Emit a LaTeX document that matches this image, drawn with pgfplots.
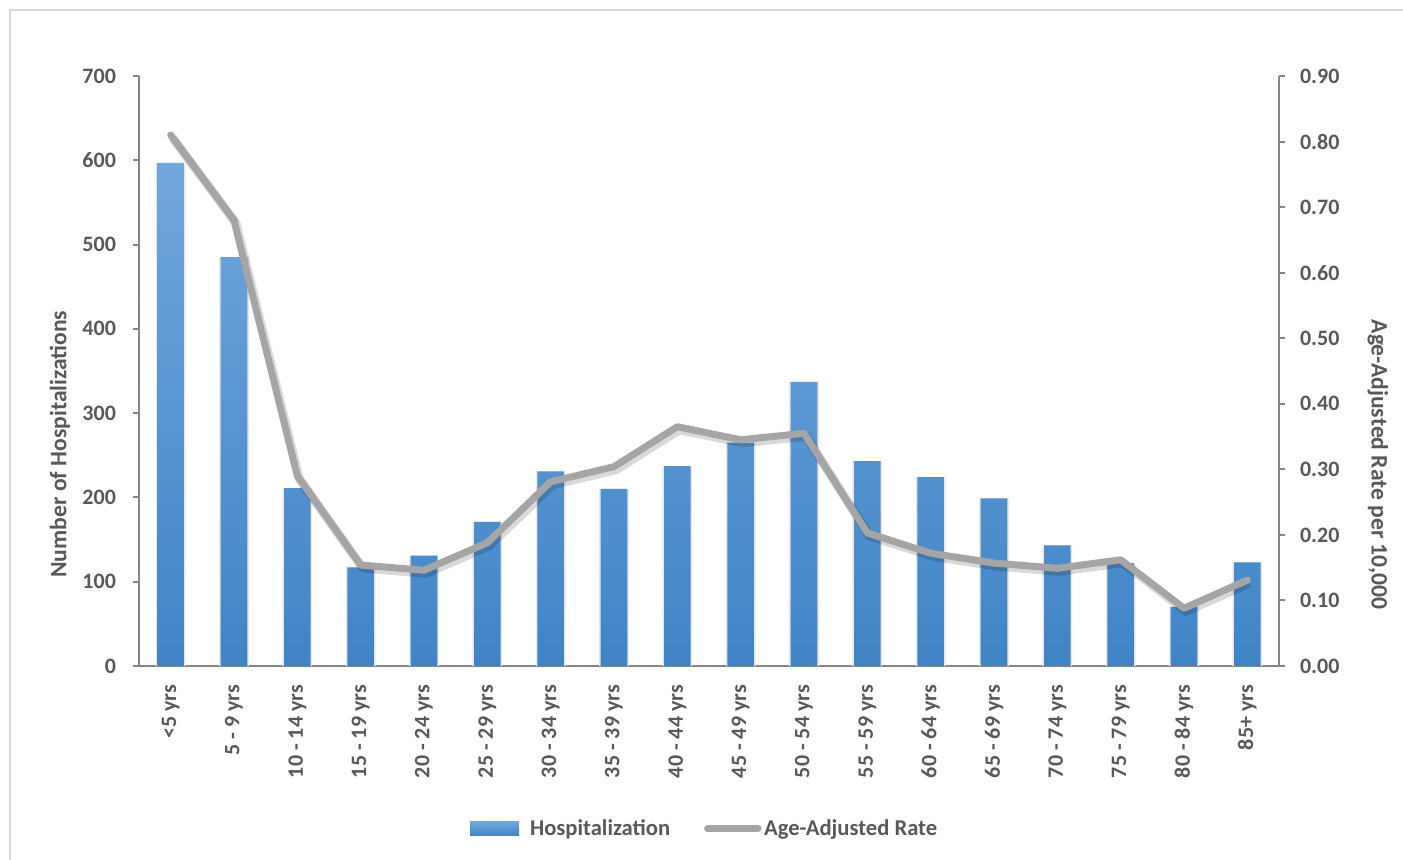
\documentclass[border=0pt]{standalone}
\usepackage{pgfplots}
\pgfplotsset{compat=1.18}
\usepackage{fontspec}
\setmainfont{Carlito}
\definecolor{txt}{HTML}{595959}
\definecolor{axgray}{HTML}{868686}
\definecolor{bartop}{RGB}{114,167,221}
\definecolor{barbot}{RGB}{64,132,198}
\definecolor{linegray}{HTML}{A5A5A5}
\definecolor{frame}{HTML}{D9D9D9}

\begin{document}
\begin{tikzpicture}
% canvas: 1 px of the reference = 0.5pt
\path[use as bounding box] (0,0) rectangle (701.5pt,430pt);
\draw[frame, line width=1pt] (5pt,0) -- (5pt,425pt) -- (701.5pt,425pt);

\pgfplotsset{
  base/.style={
    at={(69.5pt,97pt)}, anchor=south west,
    scale only axis, width=570pt, height=295pt,
    xmin=-0.5, xmax=17.5,
    tick align=outside,
    axis line style={axgray, line width=1pt},
    tick style={axgray, line width=1pt},
    /pgf/number format/assume math mode=true,
    ticklabel style={font=\fontsize{11}{13}\selectfont\bfseries, text=txt},
  }
}

\begin{axis}[base,
  axis x line*=bottom, axis y line*=left,
  ymin=0, ymax=700, ytick={0,100,...,700},
  major tick length=3pt,
  xtick={0,...,17},
  xticklabels={<5 yrs, 5 - 9 yrs, 10 - 14 yrs, 15 - 19 yrs, 20 - 24 yrs, 25 - 29 yrs,
    30 - 34 yrs, 35 - 39 yrs, 40 - 44 yrs, 45 - 49 yrs, 50 - 54 yrs, 55 - 59 yrs,
    60 - 64 yrs, 65 - 69 yrs, 70 - 74 yrs, 75 - 79 yrs, 80 - 84 yrs, 85+ yrs},
  xtick style={draw=none},
  minor xtick={-0.5,0.5,...,17.5},
  minor tick length=3.5pt,
  minor tick style={axgray, line width=1pt},
  xticklabel style={rotate=90, anchor=east, xshift=-3pt},
  yticklabel style={xshift=-5pt},
  every axis y label/.style={at={(axis description cs:-0.0693,0.376)}, rotate=90, anchor=center,
    font=\fontsize{11.8}{13}\selectfont\bfseries, text=txt},
  ylabel={Number of Hospitalizations},
  legend columns=2,
  legend style={draw=none, fill=none, at={(axis description cs:0.497,-0.276)}, anchor=center,
    font=\fontsize{11.3}{13}\selectfont\bfseries, text=txt,
    /tikz/every even column/.append style={column sep=15pt}},
  legend cell align=left,
]
% soft halo behind bars
\addplot[ybar, bar width=0.47, bar shift=0pt, fill=black!9, draw=none, forget plot]
  coordinates {(0,597) (1,485) (2,211) (3,117) (4,131) (5,171) (6,231) (7,210) (8,237)
    (9,265) (10,337) (11,243) (12,224) (13,199) (14,143) (15,122) (16,70) (17,123)};
\addplot[ybar, bar width=0.42, bar shift=0pt, draw=none, top color=bartop, bottom color=barbot,
  legend image code/.code={
    \fill[draw=none, top color=bartop, bottom color=barbot] (0pt,-3.5pt) rectangle (24.5pt,3.5pt);
    \path[draw=none, fill=none] (0pt,0pt) -- (28pt,0pt);}]
  coordinates {(0,597) (1,485) (2,211) (3,117) (4,131) (5,171) (6,231) (7,210) (8,237)
    (9,265) (10,337) (11,243) (12,224) (13,199) (14,143) (15,122) (16,70) (17,123)};
\addlegendentry{Hospitalization}
\addlegendimage{legend image code/.code={
    \draw[overlay, linegray, line width=3.5pt, line cap=round] (1.75pt,0pt) -- (27pt,0pt);
    \path[draw=none, fill=none] (0pt,-3.5pt) -- (28pt,3.5pt);}}
\addlegendentry{Age-Adjusted Rate}
\end{axis}

\begin{axis}[base,
  axis x line=none, axis y line*=right,
  ymin=0, ymax=0.9, ytick={0,0.1,...,0.9},
  major tick length=3pt,
  yticklabel style={xshift=4pt, /pgf/number format/.cd, fixed, fixed zerofill, precision=2},
  every axis y label/.style={at={(axis description cs:1.0868,0.341)}, rotate=-90, anchor=center,
    font=\fontsize{11.8}{13}\selectfont\bfseries, text=txt},
  ylabel={Age-Adjusted Rate per 10,000},
]
% shadow of the line
\addplot[black, opacity=0.15, line width=4.5pt, line join=round, transform canvas={xshift=1pt, yshift=-1.5pt}]
  coordinates {(0,0.81) (1,0.68) (2,0.29) (3,0.154) (4,0.146) (5,0.188) (6,0.281) (7,0.304)
    (8,0.365) (9,0.345) (10,0.355) (11,0.203) (12,0.172) (13,0.157) (14,0.149) (15,0.162)
    (16,0.088) (17,0.131)};
\addplot[linegray, line width=3.5pt, line join=round, line cap=round]
  coordinates {(0,0.81) (1,0.68) (2,0.29) (3,0.154) (4,0.146) (5,0.188) (6,0.281) (7,0.304)
    (8,0.365) (9,0.345) (10,0.355) (11,0.203) (12,0.172) (13,0.157) (14,0.149) (15,0.162)
    (16,0.088) (17,0.131)};
\end{axis}
\end{tikzpicture}
\end{document}
